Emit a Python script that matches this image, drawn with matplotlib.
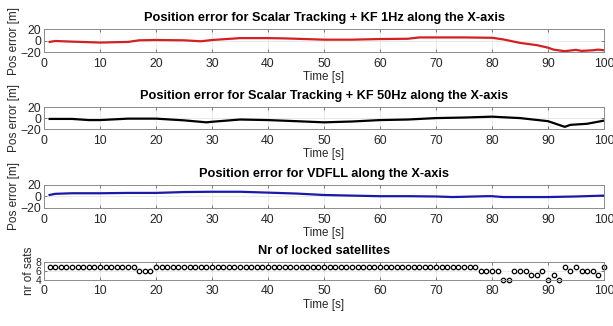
import matplotlib
matplotlib.use("Agg")
from matplotlib import pyplot as plt
from matplotlib import font_manager

# position error, KF 1Hz (red)
t_kf1 = [1, 2, 5, 10, 15, 17, 20, 25, 28, 30, 35, 40, 43, 45, 50, 55, 60, 65, 67, 70,
         75, 80, 82, 85, 88, 90, 91, 93, 95, 96, 98, 99, 100]
err_kf1 = [-2.2, -0.6, -1.7, -3.3, -2.2, 0.6, 1.1, 0.6, -1.1, 1.1, 4.4, 4.4, 3.9, 3.3, 1.7, 1.7,
           2.8, 3.3, 5.6, 5.6, 5.6, 5.0, 2.2, -3.9, -7.8, -12.2, -15.6, -18.3, -16.0, -17.8,
           -16.7, -15.6, -16.7]

# position error, KF 50Hz (black)
t_kf50 = [1, 5, 8, 10, 15, 20, 25, 29, 30, 35, 40, 45, 50, 55, 60, 65, 70, 75, 80, 85,
          90, 93, 94, 97, 100]
err_kf50 = [-1.5, -1.5, -3.6, -3.6, -1.0, -1.0, -4.1, -7.7, -6.7, -2.6, -3.6, -5.6, -7.7,
            -6.2, -3.6, -2.6, 0.0, 1.0, 2.6, 0.0, -5.6, -15.9, -12.3, -10.3, -4.6]

# position error, VDFLL (blue)
t_vdfll = [1, 2, 5, 10, 15, 20, 25, 30, 35, 40, 45, 50, 55, 60, 65, 70, 73, 75, 79, 80,
           82, 85, 90, 95, 100]
err_vdfll = [2.6, 4.6, 5.6, 5.6, 6.2, 6.2, 7.7, 8.2, 8.2, 6.7, 5.1, 2.6, 1.5, 0.5, 0.5, 0.0,
             -1.0, -0.5, 0.5, 0.5, -1.0, -1.0, -1.0, 0.0, 1.5]

# number of locked satellites, one value per second 1..100
t_sats = list(range(1, 101))
n_sats = [7, 7, 7, 7, 7, 7, 7, 7, 7, 7, 7, 7, 7, 7, 7, 7, 6, 6, 6, 7,
          7, 7, 7, 7, 7, 7, 7, 7, 7, 7, 7, 7, 7, 7, 7, 7, 7, 7, 7, 7,
          7, 7, 7, 7, 7, 7, 7, 7, 7, 7, 7, 7, 7, 7, 7, 7, 7, 7, 7, 7,
          7, 7, 7, 7, 7, 7, 7, 7, 7, 7, 7, 7, 7, 7, 7, 7, 7, 6, 6, 6,
          6, 4, 4, 6, 6, 6, 5, 5, 6, 4, 5, 4, 7, 6, 7, 6, 6, 6, 5, 7]

# the reference text looks tall and narrow, so prefer a narrow face if there is one
try:
    font_manager.findfont('Liberation Sans Narrow', fallback_to_default=False)
    fam = 'Liberation Sans Narrow'
    scale = 1.2
except Exception:
    fam = 'Liberation Sans'
    scale = 1.0

plt.rcParams['font.family'] = [fam, 'DejaVu Sans']
plt.rcParams['font.size'] = 8.8 * scale

fig = plt.figure(figsize=(6.13, 3.26), dpi=100)
left, width = 0.0718, 0.9135
rects = [
    [left, 0.840, width, 0.0706],
    [left, 0.604, width, 0.0675],
    [left, 0.362, width, 0.0706],
    [left, 0.142, width, 0.054],
]
axs = [fig.add_axes(r) for r in rects]


def style(ax, title, ylabel, ylim, yticks):
    ax.set_xlim(0, 100)
    ax.set_ylim(*ylim)
    ax.set_xticks(range(0, 101, 10))
    ax.set_yticks(yticks)
    ax.grid(True, color='#e6e6e6', linewidth=0.6)
    ax.set_axisbelow(True)
    for s in ax.spines.values():
        s.set_color('#8c8c8c')
        s.set_linewidth(0.7)
    ax.tick_params(direction='in', length=2, width=0.6, color='#666666',
                   top=True, right=True, labelcolor='#262626')
    ax.tick_params(axis='x', pad=4)
    ax.tick_params(axis='y', pad=2)
    ax.set_title(title, fontweight='bold', fontsize=9.2 * scale, pad=6)
    ax.set_xlabel('Time [s]', labelpad=1, fontsize=8.4 * scale, color='#262626')
    ax.set_ylabel(ylabel, labelpad=0, fontsize=8.5 * scale, color='#262626')


axs[0].plot(t_kf1, err_kf1, color='#d42020', linewidth=1.6)
style(axs[0], 'Position error for Scalar Tracking + KF 1Hz along the X-axis',
      'Pos error [m]', (-20, 20), [-20, 0, 20])

axs[1].plot(t_kf50, err_kf50, color='black', linewidth=1.6)
style(axs[1], 'Position error for Scalar Tracking + KF 50Hz along the X-axis',
      'Pos error [m]', (-20, 20), [-20, 0, 20])

axs[2].plot(t_vdfll, err_vdfll, color='#1a1aa8', linewidth=1.6)
style(axs[2], 'Position error for VDFLL along the X-axis',
      'Pos error [m]', (-20, 20), [-20, 0, 20])

axs[3].plot(t_sats, n_sats, linestyle='none', marker='o', markersize=3.2,
            markerfacecolor='white', markeredgecolor='black', markeredgewidth=0.9,
            clip_on=False)
style(axs[3], 'Nr of locked satellites', 'nr of sats', (4, 8), [4, 6, 8])
axs[3].tick_params(axis='y', labelsize=7.5 * scale)

fig.savefig('out.png', dpi=100)
